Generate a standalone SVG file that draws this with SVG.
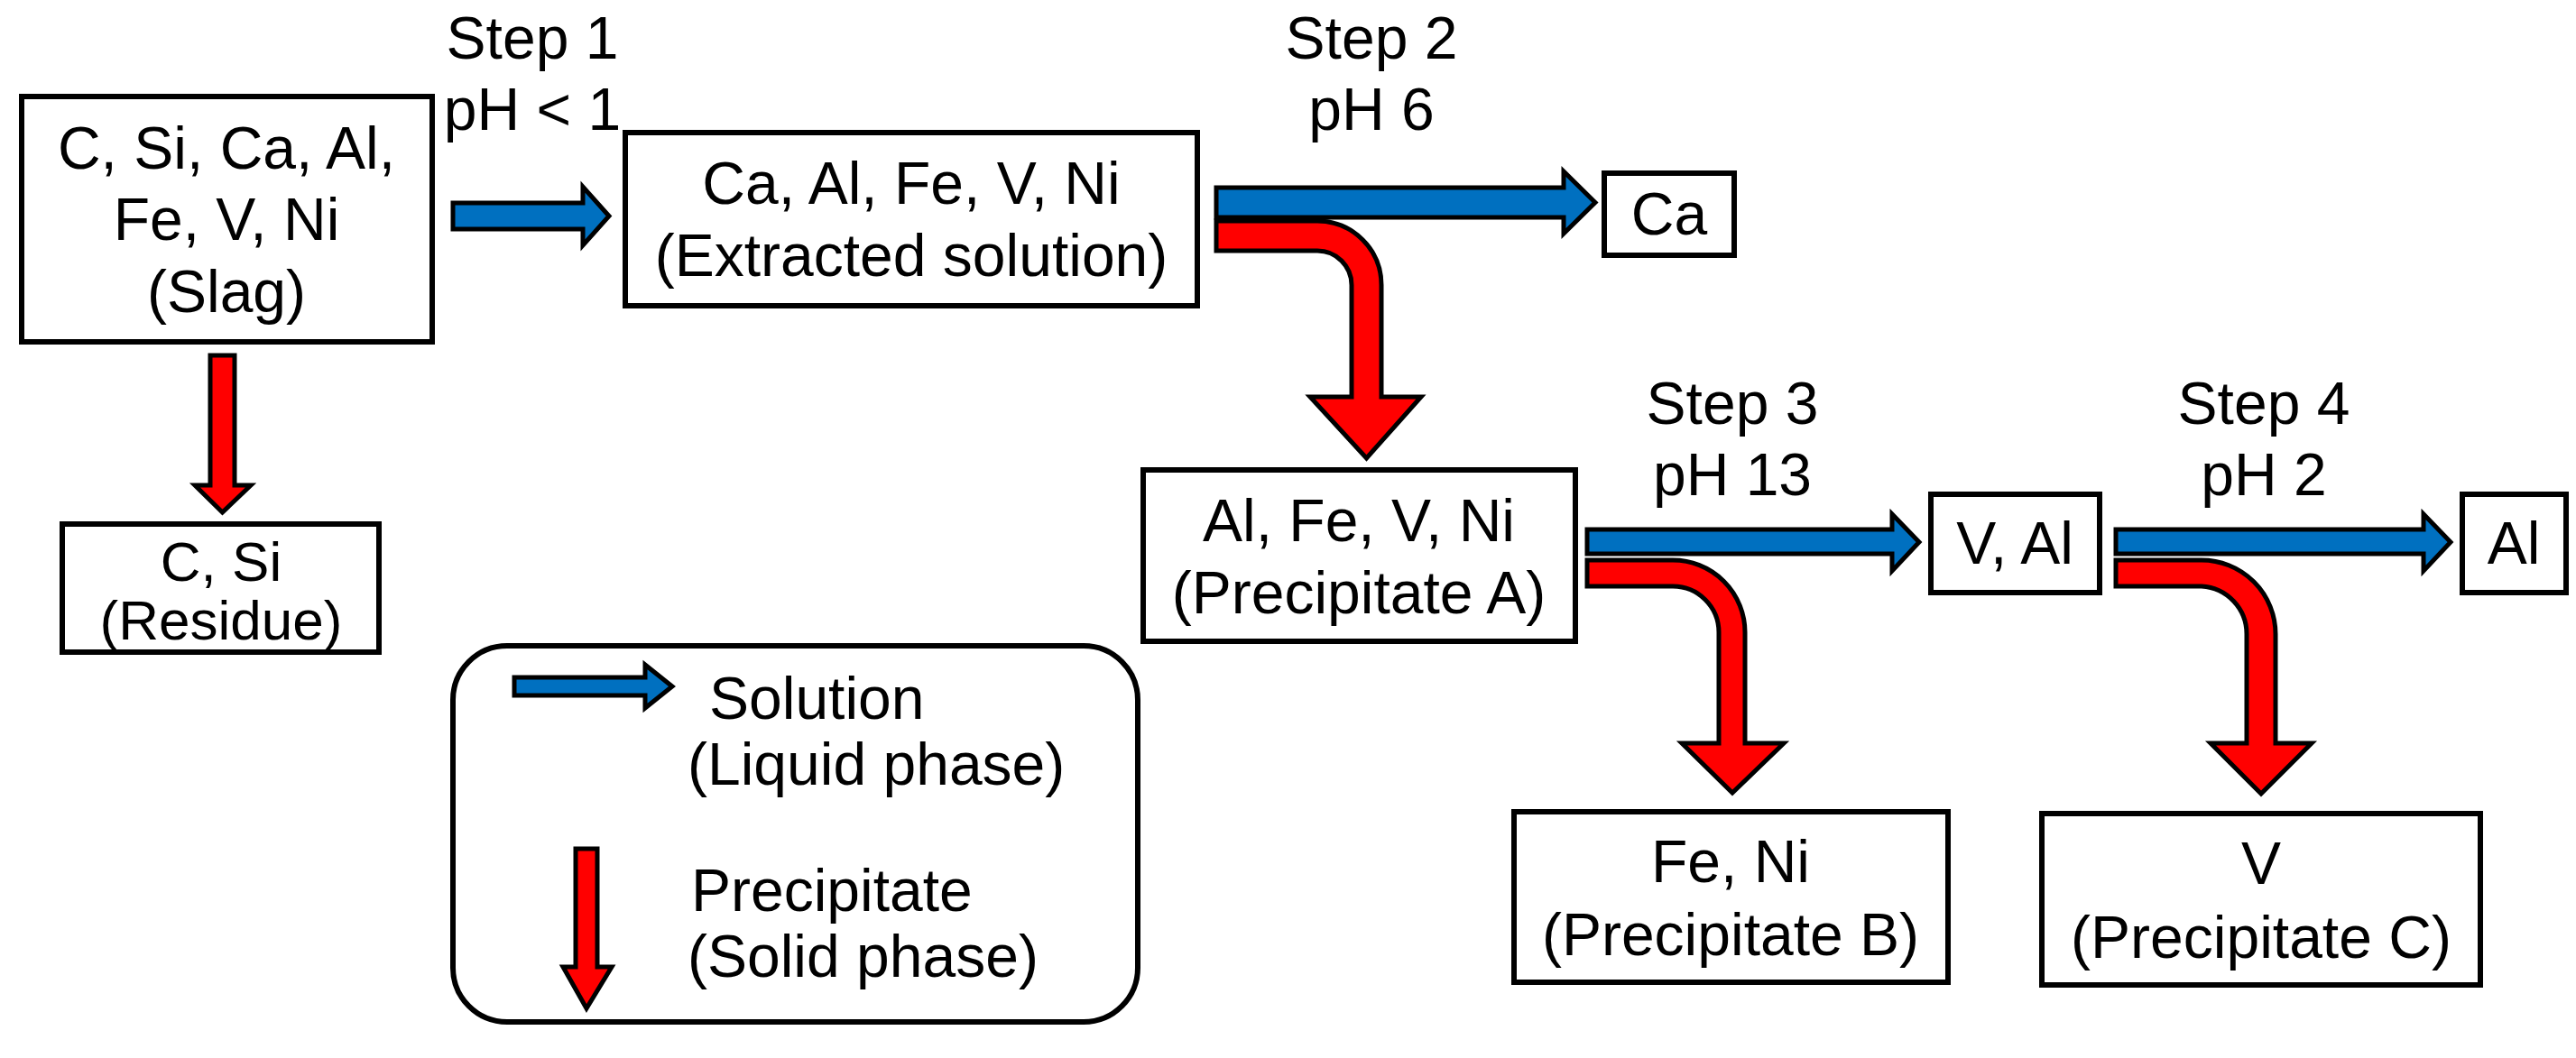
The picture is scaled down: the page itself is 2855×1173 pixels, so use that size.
<svg xmlns="http://www.w3.org/2000/svg" width="2855" height="1173" viewBox="0 0 2855 1173">
<style>
.box{fill:#fff;stroke:#000;stroke-width:6}
.t{font-family:"Liberation Sans",Arial,sans-serif;font-size:66px;fill:#000;text-anchor:middle}
.tl{font-family:"Liberation Sans",Arial,sans-serif;font-size:66px;fill:#000}
.blue{fill:#0070c0;stroke:#000;stroke-width:5;stroke-linejoin:miter}
.red{fill:#ff0000;stroke:#000;stroke-width:5;stroke-linejoin:miter}
</style>
<rect width="2855" height="1173" fill="#fff"/>
<g id="connectors">
<path class="blue" d="M502,225 H646 V207 L675,239.5 L646,272 V254 H502 Z"/>
<path class="red" d="M233,394 H260 V538 H278 L246.5,568 L216,538 H233 Z"/>
<path class="red" d="M1348,245 H1460 A71,71 0 0 1 1531,316 V440 H1575 L1514.5,508 L1452,440 H1498 V316 A38,38 0 0 0 1460,278 H1348 Z"/>
<path class="blue" d="M1348,208 H1733 V190 L1768,224.5 L1733,259 V241 H1348 Z"/>
<path class="red" d="M1759,621 H1854 A80,80 0 0 1 1934,701 V824 H1977 L1920,879 L1864,824 H1905 V701 A51,51 0 0 0 1854,650 H1759 Z"/>
<path class="blue" d="M1759,587 H2097 V570 L2127,601 L2097,633 V614 H1759 Z"/>
<path class="red" d="M2345,621 H2440 A82,82 0 0 1 2522,703 V824 H2562 L2506,880 L2450,824 H2490 V703 A53,53 0 0 0 2440,650 H2345 Z"/>
<path class="blue" d="M2345,587 H2686 V570 L2716,601 L2686,633 V614 H2345 Z"/>
</g>
<g id="labels">
<text class="t" x="590" y="65">Step 1</text>
<text class="t" x="590" y="144">pH &lt; 1</text>
<text class="t" x="1520" y="65">Step 2</text>
<text class="t" x="1520" y="144">pH 6</text>
<text class="t" x="1920" y="470">Step 3</text>
<text class="t" x="1920" y="549">pH 13</text>
<text class="t" x="2509" y="470">Step 4</text>
<text class="t" x="2509" y="549">pH 2</text>
</g>
<g id="slag"><rect class="box" x="24" y="107" width="455" height="272"/>
<text class="t" x="251" y="187">C, Si, Ca, Al,</text><text class="t" x="251" y="266">Fe, V, Ni</text><text class="t" x="251" y="346">(Slag)</text></g>
<g id="residue"><rect class="box" x="69" y="581" width="351" height="142"/>
<text class="t" x="245" y="644" style="font-size:62px">C, Si</text><text class="t" x="245" y="709" style="font-size:62px">(Residue)</text></g>
<g id="extracted"><rect class="box" x="693" y="147" width="634" height="192"/>
<text class="t" x="1010" y="226">Ca, Al, Fe, V, Ni</text><text class="t" x="1010" y="306">(Extracted solution)</text></g>
<g id="ca"><rect class="box" x="1778" y="192" width="144" height="91"/>
<text class="t" x="1850" y="260">Ca</text></g>
<g id="precA"><rect class="box" x="1267" y="521" width="479" height="190"/>
<text class="t" x="1506" y="600">Al, Fe, V, Ni</text><text class="t" x="1506" y="680">(Precipitate A)</text></g>
<g id="val"><rect class="box" x="2140" y="548" width="187" height="109"/>
<text class="t" x="2233" y="625">V, Al</text></g>
<g id="al"><rect class="box" x="2729" y="548" width="115" height="109"/>
<text class="t" x="2786" y="625">Al</text></g>
<g id="precB"><rect class="box" x="1678" y="900" width="481" height="189"/>
<text class="t" x="1918" y="978">Fe, Ni</text><text class="t" x="1918" y="1059">(Precipitate B)</text></g>
<g id="precC"><rect class="box" x="2263" y="902" width="486" height="190"/>
<text class="t" x="2506" y="980">V</text><text class="t" x="2506" y="1062">(Precipitate C)</text></g>
<g id="legend"><rect class="box" x="502" y="716" width="759" height="417" rx="60"/>
<path class="blue" d="M570,751 H715 V737 L745,761 L715,785 V771 H570 Z"/>
<path class="red" d="M638,941 H662 V1072 H678 L650,1118 L624,1072 H638 Z"/>
<text class="tl" x="786" y="797">Solution</text><text class="tl" x="762" y="870">(Liquid phase)</text>
<text class="tl" x="766" y="1010">Precipitate</text><text class="tl" x="762" y="1083">(Solid phase)</text></g>
</svg>
